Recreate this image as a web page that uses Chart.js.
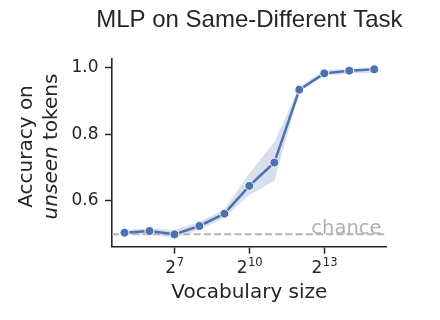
<!DOCTYPE html>
<html>
<head>
<meta charset="utf-8">
<script src="https://cdn.jsdelivr.net/npm/chart.js@4.4.1/dist/chart.umd.min.js"></script>
<style>
html,body{margin:0;padding:0;background:#fff;}
canvas{display:block;}
</style>
</head>
<body>
<canvas id="c" width="440" height="320"></canvas>
<script>
// ---- data ----
const vocabExponents = [5, 6, 7, 8, 9, 10, 11, 12, 13, 14, 15];   // vocabulary size = 2^k
const meanAccuracy   = [0.505, 0.510, 0.500, 0.525, 0.562, 0.645, 0.715, 0.933, 0.982, 0.990, 0.994];
const upperBand      = [0.512, 0.519, 0.513, 0.538, 0.575, 0.683, 0.776, 0.941, 0.992, 0.996, 0.997];
const lowerBand      = [0.498, 0.502, 0.488, 0.513, 0.550, 0.618, 0.660, 0.926, 0.974, 0.981, 0.984];
const xTickExponents = [7, 10, 13];
const yTickValues    = [0.6, 0.8, 1.0];
const chanceLevel    = 0.5;
const xLimits        = [4.5, 15.5];
const yLimits        = [0.463, 1.025];
const titleText      = 'MLP on Same-Different Task';
const xLabelText     = 'Vocabulary size';
const yLabelLine1    = 'Accuracy on';
const yLabelItalic   = 'unseen';
const yLabelRest     = ' tokens';
const chanceText     = 'chance';

const pts = arr => vocabExponents.map((k, i) => ({x: k, y: arr[i]}));

const BLUE = '#4c72b0';
const INK = '#262626';
const TICK_FONT = {family: 'DejaVu Sans', size: 17};

const textPlugin = {
  id: 'texts',
  afterDraw(chart) {
    const ctx = chart.ctx;
    const ca = chart.chartArea;
    const xs = chart.scales.x, ys = chart.scales.y;
    const cx = (ca.left + ca.right) / 2;
    ctx.save();
    ctx.fillStyle = INK;
    // title
    ctx.font = '24px "Liberation Sans"';
    ctx.textAlign = 'center';
    ctx.textBaseline = 'alphabetic';
    ctx.fillText(titleText, cx, 27);
    // x tick labels: base "2" with superscript exponent, centred on each tick
    xTickExponents.forEach(k => {
      const px = xs.getPixelForValue(k);
      const base = '2', exp = String(k);
      ctx.font = '17px "DejaVu Sans"';
      const wb = ctx.measureText(base).width;
      ctx.font = '11.5px "DejaVu Sans"';
      const we = ctx.measureText(exp).width;
      const left = px - (wb + we) / 2;
      ctx.textAlign = 'left';
      ctx.font = '17px "DejaVu Sans"';
      ctx.fillText(base, left, 273.3);
      ctx.font = '11.5px "DejaVu Sans"';
      ctx.fillText(exp, left + wb + 0.5, 266);
    });
    // x label
    ctx.textAlign = 'center';
    ctx.font = '20px "DejaVu Sans"';
    ctx.fillText(xLabelText, cx, 298);
    // chance text
    ctx.fillStyle = '#b0b0b0';
    ctx.font = '19.5px "DejaVu Sans"';
    ctx.textAlign = 'right';
    ctx.fillText(chanceText, xs.getPixelForValue(15.29), ys.getPixelForValue(chanceLevel) - 0.5);
    // y label (two lines, rotated)
    ctx.fillStyle = INK;
    const cy = 146.5;
    ctx.save();
    ctx.translate(32, cy);
    ctx.rotate(-Math.PI / 2);
    ctx.textAlign = 'center';
    ctx.font = '20px "DejaVu Sans"';
    ctx.fillText(yLabelLine1, 0, 0);
    ctx.restore();
    ctx.save();
    ctx.translate(57, cy);
    ctx.rotate(-Math.PI / 2);
    ctx.textAlign = 'left';
    ctx.font = 'italic 20px "DejaVu Sans"';
    const w1 = ctx.measureText(yLabelItalic).width;
    ctx.font = '20px "DejaVu Sans"';
    const w2 = ctx.measureText(yLabelRest).width;
    const start = -(w1 + w2) / 2;
    ctx.font = 'italic 20px "DejaVu Sans"';
    ctx.fillText(yLabelItalic, start, 0);
    ctx.font = '20px "DejaVu Sans"';
    ctx.fillText(yLabelRest, start + w1, 0);
    ctx.restore();
    ctx.restore();
  }
};

new Chart(document.getElementById('c'), {
  type: 'line',
  data: {
    datasets: [
      {
        label: 'mean',
        data: pts(meanAccuracy),
        borderColor: BLUE,
        borderWidth: 2.5,
        pointRadius: 4.5,
        pointBackgroundColor: BLUE,
        pointBorderColor: '#ffffff',
        pointBorderWidth: 1,
        fill: false,
        order: 0
      },
      {
        label: 'upper',
        data: pts(upperBand),
        borderWidth: 0,
        borderColor: 'rgba(0,0,0,0)',
        pointRadius: 0,
        backgroundColor: 'rgba(76,114,176,0.22)',
        fill: '+1',
        order: 2
      },
      {
        label: 'lower',
        data: pts(lowerBand),
        borderWidth: 0,
        borderColor: 'rgba(0,0,0,0)',
        pointRadius: 0,
        fill: false,
        order: 3
      },
      {
        label: 'chance',
        data: xLimits.map(x => ({x: x, y: chanceLevel})),
        borderColor: '#b3b3b3',
        borderWidth: 2,
        borderDash: [7, 3.2],
        pointRadius: 0,
        fill: false,
        order: 1
      }
    ]
  },
  options: {
    responsive: false,
    animation: false,
    devicePixelRatio: 1,
    layout: {padding: {top: 59, right: 53.3, left: 0, bottom: 23.3}},
    plugins: {legend: {display: false}, tooltip: {enabled: false}, title: {display: false}},
    scales: {
      x: {
        type: 'linear',
        min: xLimits[0], max: xLimits[1],
        afterFit(s) { s.height = 50; },
        afterBuildTicks(s) { s.ticks = xTickExponents.map(v => ({value: v})); },
        grid: {display: true, drawOnChartArea: false, drawTicks: true, tickLength: 7, tickColor: INK, tickWidth: 1.5},
        border: {display: true, color: INK, width: 1.6},
        ticks: {display: false}
      },
      y: {
        type: 'linear',
        min: yLimits[0], max: yLimits[1],
        afterFit(s) { s.width = 112; },
        afterBuildTicks(s) { s.ticks = yTickValues.map(v => ({value: v})); },
        grid: {display: true, drawOnChartArea: false, drawTicks: true, tickLength: 7, tickColor: INK, tickWidth: 1.5},
        border: {display: true, color: INK, width: 1.6},
        ticks: {color: INK, font: TICK_FONT, padding: 6.5, callback: v => v.toFixed(1)}
      }
    }
  },
  plugins: [textPlugin]
});
</script>
</body>
</html>
